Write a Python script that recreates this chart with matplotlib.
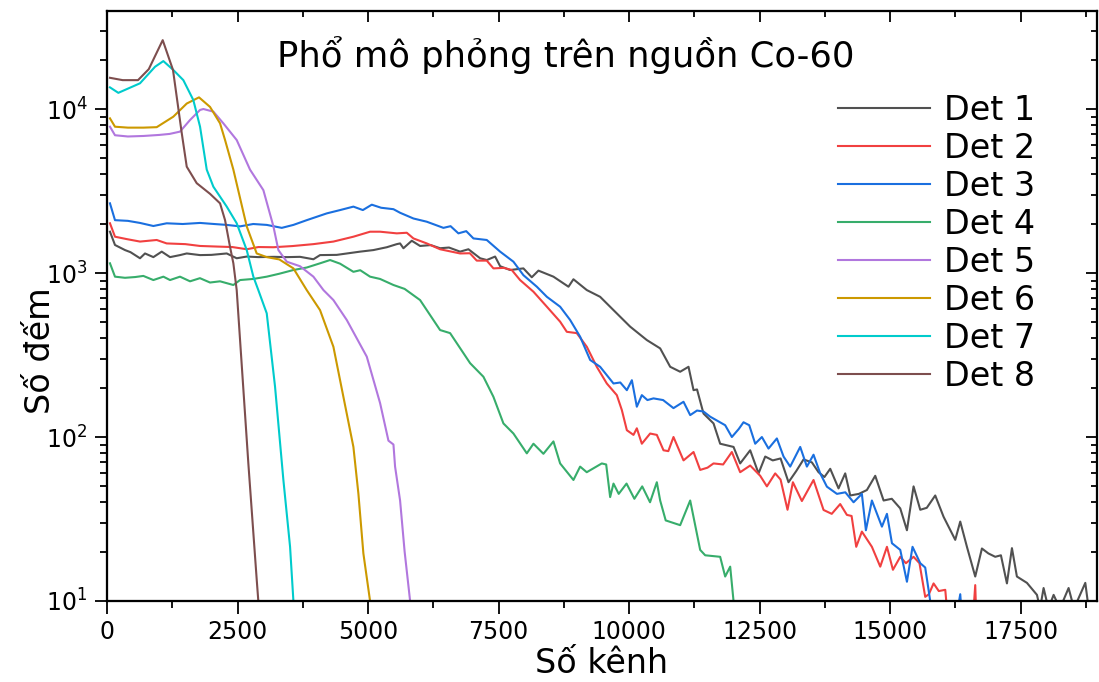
import matplotlib
matplotlib.use("Agg")
import matplotlib.pyplot as plt
from matplotlib.ticker import LogLocator, MultipleLocator, NullFormatter

plt.rcParams['font.family'] = ['DejaVu Sans']

labels = ["Det 1", "Det 2", "Det 3", "Det 4", "Det 5", "Det 6", "Det 7", "Det 8"]
colors = ["#515151", "#F14040", "#1A6FDF", "#37AD6B", "#B177DE", "#CC9900", "#00CBCC", "#7D4E4E"]

x1 = [57, 153, 345, 450, 632, 728, 888, 1048, 1207, 1398, 1527, 1782, 2000, 2293, 2484, 2676, 2900, 3200, 3450,
      3697, 3953, 4080, 4400, 4847, 5102, 5358, 5550, 5613, 5677, 5837, 5996, 6200, 6379, 6550, 6762, 6922,
      7146, 7273, 7433, 7529, 7720, 7975, 8135, 8263, 8550, 8838, 8933, 9189, 9444, 9700, 10019, 10339, 10594,
      10786, 10977, 11137, 11233, 11300, 11424, 11616, 11743, 11999, 12126, 12318, 12478, 12606, 12750, 12900,
      13052, 13200, 13340, 13500, 13627, 13740, 13851, 14010, 14138, 14234, 14400, 14553, 14713, 14873, 15030,
      15192, 15320, 15447, 15575, 15700, 15862, 16022, 16245, 16341, 16469, 16628, 16756, 16880, 17011, 17120,
      17235, 17331, 17426, 17618, 17810, 17870, 17937, 18030, 18129, 18250, 18416, 18520, 18736, 18800, 18900]
y1 = [1786, 1482, 1380, 1340, 1230, 1316, 1250, 1350, 1250, 1286, 1316, 1286, 1290, 1316, 1230, 1260, 1250, 1255, 1250,
      1255, 1213, 1286, 1290, 1350, 1380, 1436, 1500, 1515, 1416, 1573, 1462, 1480, 1416, 1430, 1350, 1396,
      1230, 1200, 1260, 1100, 1043, 1067, 942, 1034, 950, 825, 916, 787, 716, 594, 471, 390, 347,
      268, 250, 268, 193, 195, 139, 121, 91, 87, 69, 83, 60, 76, 72, 74,
      53, 62, 73, 70, 61, 57, 64, 48.6, 60, 44, 45, 47.5, 58, 41, 42,
      36.7, 27, 50, 36, 37, 44, 32.6, 23.6, 30.5, 21.4, 14.1, 20.9, 19.5, 18.6, 19,
      12.8, 21, 14.1, 12.9, 10.9, 9, 12, 9, 10.9, 9, 12, 9, 12.9, 9, 8]

x2 = [57, 153, 377, 632, 952, 1143, 1500, 1782, 2100, 2400, 2676, 2900, 3187, 3550, 3953, 4336, 4719, 5038,
      5230, 5550, 5741, 5869, 6124, 6379, 6762, 6950, 7081, 7273, 7401, 7600, 7752, 7911, 8167, 8424, 8678,
      8806, 8997, 9189, 9380, 9572, 9764, 9860, 9956, 10083, 10147, 10243, 10402, 10530, 10658, 10750, 10849,
      11041, 11233, 11360, 11500, 11616, 11800, 11967, 12126, 12318, 12510, 12638, 12797, 12900, 13033, 13136,
      13308, 13531, 13723, 13880, 14042, 14170, 14260, 14349, 14457, 14649, 14809, 14937, 15052, 15192, 15300,
      15447, 15560, 15670, 15740, 15830, 15930, 16054, 16100, 16300, 16560, 16628, 16660, 16800]
y2 = [2010, 1665, 1610, 1555, 1590, 1515, 1500, 1462, 1450, 1440, 1396, 1440, 1436, 1460, 1500, 1555, 1665, 1786,
      1786, 1745, 1760, 1625, 1515, 1396, 1316, 1320, 1190, 1190, 1067, 1075, 1043, 906, 769, 623, 505,
      438, 430, 355, 268, 212, 180, 146, 110, 103, 113, 91, 105, 103, 83, 82, 100,
      72, 81, 63, 65, 69, 68, 81, 61, 67, 58, 50, 60, 55, 36, 53,
      40.7, 54.7, 35.9, 34, 39, 33.5, 33, 21.4, 26.5, 21.4, 16.2, 21.4, 15.5, 18.6, 17,
      18.6, 17, 10.6, 11, 12.8, 11.5, 11.7, 8, 6, 6, 12.5, 6, 5]

x3 = [57, 153, 400, 632, 888, 1143, 1450, 1782, 2050, 2293, 2548, 2800, 3059, 3347, 3570, 3825, 4209, 4464,
      4719, 4900, 5071, 5250, 5486, 5613, 5869, 6124, 6443, 6580, 6730, 6880, 7018, 7273, 7529, 7784, 7975,
      8232, 8424, 8678, 8870, 9061, 9253, 9444, 9700, 9830, 9956, 10052, 10147, 10243, 10350, 10466, 10650,
      10849, 11041, 11169, 11300, 11424, 11552, 11839, 11967, 12100, 12190, 12300, 12414, 12542, 12669, 12829,
      12957, 13084, 13276, 13404, 13531, 13659, 13787, 13979, 14140, 14298, 14457, 14534, 14649, 14841, 14937,
      15033, 15192, 15320, 15427, 15575, 15670, 15766, 15900, 16200, 16341, 16400, 16600]
y3 = [2660, 2100, 2080, 2020, 1935, 2010, 1990, 2020, 1990, 1965, 1925, 1990, 1965, 1885, 1965, 2100, 2310, 2420,
      2540, 2420, 2610, 2500, 2450, 2330, 2150, 2055, 1885, 1930, 1745, 1800, 1625, 1590, 1350, 1172, 970,
      825, 716, 623, 517, 409, 295, 268, 212, 215, 193, 222, 153, 180, 168, 172, 168,
      150, 164, 136, 145, 143, 133, 118, 100, 112, 123, 118, 91, 100, 85, 98,
      76, 66, 87, 66, 78, 60, 49.8, 45, 46, 40, 45, 27, 41, 28.4, 34,
      22.5, 20.5, 13.1, 21.4, 17, 16, 10, 7, 6, 11, 6, 5]

x4 = [57, 153, 345, 540, 696, 888, 1080, 1207, 1398, 1590, 1780, 1973, 2165, 2420, 2548, 2800, 3059, 3300,
      3570, 3825, 4080, 4272, 4464, 4719, 4850, 5038, 5230, 5486, 5700, 5996, 6379, 6571, 6954, 7209, 7400,
      7592, 7784, 8040, 8167, 8358, 8550, 8678, 8933, 9061, 9188, 9476, 9560, 9636, 9700, 9800, 9950, 10100,
      10250, 10400, 10530, 10594, 10700, 10977, 11169, 11360, 11456, 11743, 11839, 11935, 11999, 12100]
y4 = [1146, 950, 935, 945, 960, 906, 950, 906, 950, 890, 930, 875, 890, 845, 906, 920, 950, 990,
      1043, 1080, 1146, 1200, 1140, 1017, 1040, 950, 920, 845, 800, 684, 449, 430, 282, 233, 176,
      121, 105, 79.5, 91, 79, 94, 69, 54.7, 66, 61, 69, 68, 43, 52, 45, 52, 42,
      50, 40, 53, 41, 31, 29, 41, 20.5, 19, 18.6, 14.1, 16.2, 10, 7]

x5 = [57, 153, 400, 700, 1000, 1200, 1398, 1590, 1782, 1846, 2037, 2228, 2484, 2739, 2995, 3187, 3282, 3443,
      3697, 3953, 4145, 4336, 4592, 4975, 5230, 5390, 5486, 5517, 5613, 5700, 5805, 5850]
y5 = [7800, 6920, 6800, 6850, 6950, 7050, 7280, 8570, 9870, 10000, 9640, 8180, 6470, 4270, 3200, 1925, 1380, 1172,
      1100, 950, 787, 684, 517, 309, 161, 95, 90, 66, 41, 20, 10, 7]

x6 = [57, 153, 400, 700, 952, 1270, 1527, 1762, 1973, 2165, 2261, 2420, 2676, 2867, 3059, 3300, 3570, 3825,
      4080, 4336, 4527, 4719, 4815, 4910, 5038, 5100]
y6 = [8770, 7800, 7700, 7700, 7750, 8980, 10800, 11780, 10300, 8180, 6470, 4270, 1925, 1316, 1250, 1210, 1067, 787,
      594, 355, 176, 87, 45, 19.5, 10, 7]

x7 = [57, 217, 632, 920, 1079, 1270, 1462, 1653, 1782, 1910, 2037, 2293, 2484, 2676, 2803, 2898, 3059, 3218,
      3378, 3506, 3570, 3600]
y7 = [13550, 12550, 14350, 18100, 19600, 17300, 15000, 11350, 7800, 4270, 3360, 2540, 2010, 1380, 950, 787, 568, 203,
      54.7, 21.4, 10, 7]

x8 = [57, 300, 594, 800, 1067, 1264, 1431, 1527, 1718, 1973, 2165, 2261, 2356, 2420, 2484, 2707, 2868, 2898, 2920]
y8 = [15500, 15000, 15000, 17500, 26300, 17300, 7150, 4450, 3530, 3040, 2660, 2100, 1445, 1146, 787, 69, 13.4, 10, 7]

xs = [x1, x2, x3, x4, x5, x6, x7, x8]
ys = [y1, y2, y3, y4, y5, y6, y7, y8]

title = "Phổ mô phỏng trên nguồn Co-60"
xlabel = "Số kênh"
ylabel = "Số đếm"
xticks = [0, 2500, 5000, 7500, 10000, 12500, 15000, 17500]

fig = plt.figure(figsize=(10.99, 6.82), dpi=100)
W, H = 1099, 682
L, R, T, B = 107, 1097, 11, 601
ax = fig.add_axes([L / W, (H - B) / H, (R - L) / W, (B - T) / H])

for x, y, c, lab in zip(xs, ys, colors, labels):
    ax.plot(x, y, color=c, lw=1.5, label=lab)

ax.set_yscale('log')
ax.set_xlim(0, 18960)
ax.set_ylim(10, 39600)
ax.set_xticks(xticks)
ax.set_xticklabels([str(v) for v in xticks])
ax.xaxis.set_minor_locator(MultipleLocator(1250))
ax.yaxis.set_major_locator(LogLocator(base=10, numticks=10))
ax.yaxis.set_minor_locator(LogLocator(base=10, subs=range(2, 10), numticks=20))
ax.yaxis.set_minor_formatter(NullFormatter())

ax.tick_params(which='both', direction='out', top=False, right=False, width=1.3, labelsize=17)
ax.tick_params(which='major', length=9, pad=5)
ax.tick_params(which='minor', length=5)
for s in ax.spines.values():
    s.set_linewidth(1.5)

# mirrored inward ticks on top and right
axt = ax.twiny()
axt.set_xlim(ax.get_xlim())
axt.set_xticks(xticks)
axt.xaxis.set_minor_locator(MultipleLocator(1250))
axt.tick_params(which='both', direction='in', labeltop=False, width=1.3)
axt.tick_params(which='major', length=8)
axt.tick_params(which='minor', length=4)
axr = ax.twinx()
axr.set_yscale('log')
axr.set_ylim(ax.get_ylim())
axr.yaxis.set_major_locator(LogLocator(base=10, numticks=10))
axr.yaxis.set_minor_locator(LogLocator(base=10, subs=range(2, 10), numticks=20))
axr.tick_params(which='both', direction='in', labelright=False, width=1.3)
axr.tick_params(which='major', length=8)
axr.tick_params(which='minor', length=4)
for a in (axt, axr):
    for s in a.spines.values():
        s.set_linewidth(1.5)

ax.set_xlabel(xlabel, fontsize=24)
ax.set_ylabel(ylabel, fontsize=24)
ax.xaxis.set_label_coords(0.5, -0.078)
ax.yaxis.set_label_coords(-0.05, 0.425)

ax.text(0.4636, 0.925, title, transform=ax.transAxes, ha='center', va='center', fontsize=25.5)

handles, labs = ax.get_legend_handles_labels()
leg = ax.legend(handles, labs, loc='upper left', bbox_to_anchor=(0.738, 0.86), frameon=False,
                fontsize=24, handlelength=2.76, handletextpad=0.42, labelspacing=0.15,
                borderpad=0, borderaxespad=0)

fig.savefig("out.png", dpi=100)
